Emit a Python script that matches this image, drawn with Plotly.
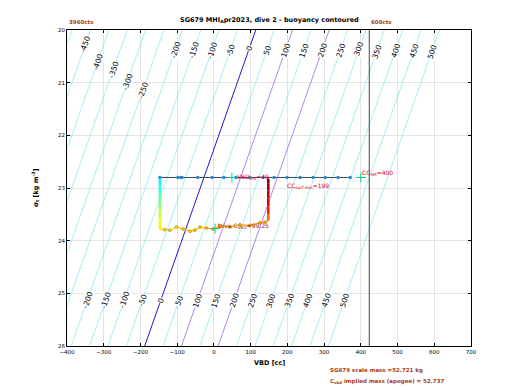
import plotly.graph_objects as go
from plotly.colors import sample_colorscale

# ---------------- data ----------------
MASS_G = 52737          # implied mass (g)
V0_CC = 51589           # hull volume reference (cc)
VBD_MAX_CC = 423        # 600 cts limit
contour_levels = list(range(-500, 501, 50))
blue_levels = [0]
purple_levels = [100, 200]

top_label_levels = [-450, -400, -350, -300, -250, -200, -150, -100, -50, 0, 50,
                    100, 150, 200, 250, 300, 350, 400, 450, 500]
top_label_sigma = [20.28, 20.61, 20.76, 20.99, 21.14, 20.38, 20.38, 20.38, 20.38, 20.35,
                   20.38, 20.38, 20.38, 20.38, 20.38, 20.36, 20.40, 20.38, 20.38, 20.40]
bot_label_levels = [-200, -150, -100, -50, 0, 50, 100, 150, 200, 250, 300, 350, 400, 450, 500]
bot_label_sigma = [25.13] * len(bot_label_levels)

# surface (top) samples
surf_vbd = [-147, -98, -90, -87, -44, -5, 27, 60, 98, 134, 164, 199, 235, 270, 303, 338, 371]
surf_sigma = [22.80, 22.80, 22.80, 22.80, 22.80, 22.80, 22.80, 22.80, 22.80, 22.80,
              22.80, 22.80, 22.80, 22.80, 22.80, 22.80, 22.80]

# descent leg
desc_vbd = [-147, -147, -147, -147, -147, -147, -147, -147]
desc_sigma = [22.82, 22.95, 23.10, 23.25, 23.40, 23.55, 23.70, 23.78]
desc_time = [30, 33, 36, 39, 42, 45, 48, 50]
# bottom leg
bot_vbd = [-147, -134, -120, -102, -84, -65, -52, -38, -20, -2, 16, 44, 71, 98, 125, 139, 148]
bot_sigma = [23.78, 23.79, 23.80, 23.74, 23.78, 23.82, 23.80, 23.74, 23.76, 23.78, 23.72,
             23.74, 23.70, 23.71, 23.66, 23.65, 23.62]
bot_time = [50, 50.3, 50.6, 50.9, 51.2, 51.5, 51.8, 52.1, 52.4, 52.7, 53, 53.3, 53.6,
            53.9, 54.2, 54.6, 55]
# ascent leg
asc_vbd = [148, 148, 148, 148, 148, 148, 148]
asc_sigma = [23.62, 23.50, 23.35, 23.20, 23.05, 22.92, 22.82]
asc_time = [55, 60, 65, 69, 73, 77, 80]
T_MIN, T_MAX = 0, 80

FONT = "DejaVu Sans"
RED = "rgb(225,0,0)"
BROWN = "rgb(170,60,20)"


def line_vbd(level, sigma):
    return MASS_G / (1 + sigma / 1000.0) - V0_CC + level


fig = go.Figure()

sig_pts = [20, 21, 22, 23, 24, 25, 26]
for lev in contour_levels:
    if lev in blue_levels:
        col, w = "rgb(0,0,205)", 0.9
    elif lev in purple_levels:
        col, w = "rgb(160,100,230)", 0.8
    else:
        col, w = "rgb(100,228,238)", 0.6
    fig.add_trace(go.Scatter(x=[line_vbd(lev, s) for s in sig_pts], y=sig_pts,
                             mode="lines", line=dict(color=col, width=w),
                             hoverinfo="skip", showlegend=False))

# contour labels
for levs, sigs in ((top_label_levels, top_label_sigma), (bot_label_levels, bot_label_sigma)):
    for lev, s in zip(levs, sigs):
        fig.add_annotation(x=line_vbd(lev, s), y=s, text=str(lev), showarrow=False,
                           textangle=-71, font=dict(family=FONT, size=7.5, color="black"),
                           bgcolor="white", borderpad=0)

# surface line
fig.add_trace(go.Scatter(x=surf_vbd, y=surf_sigma, mode="lines+markers",
                         line=dict(color="rgb(60,70,95)", width=1),
                         marker=dict(color="rgb(45,135,205)", size=3.5),
                         hoverinfo="skip", showlegend=False))


def draw_leg(xs, ys, ts, width):
    for i in range(len(xs) - 1):
        tm = (ts[i] + ts[i + 1]) / 2.0
        c = sample_colorscale("Jet", [(tm - T_MIN) / (T_MAX - T_MIN)])[0]
        fig.add_trace(go.Scatter(x=[xs[i], xs[i + 1]], y=[ys[i], ys[i + 1]], mode="lines",
                                 line=dict(color=c, width=width), hoverinfo="skip",
                                 showlegend=False))


draw_leg(desc_vbd, desc_sigma, desc_time, 2.6)
draw_leg(bot_vbd, bot_sigma, bot_time, 1.3)
draw_leg(asc_vbd, asc_sigma, asc_time, 2.6)
fig.add_trace(go.Scatter(x=bot_vbd[1:-1], y=bot_sigma[1:-1], mode="markers",
                         marker=dict(color=bot_time[1:-1], colorscale="Jet", cmin=T_MIN, cmax=T_MAX,
                                     size=3, line=dict(color="rgb(150,120,40)", width=0.5)),
                         hoverinfo="skip", showlegend=False))

# red crosses
fig.add_trace(go.Scatter(x=[400, 49, 3], y=[22.80, 22.80, 23.77], mode="markers",
                         marker=dict(symbol="cross-thin-open", size=7,
                                     line=dict(color=RED, width=1)),
                         hoverinfo="skip", showlegend=False))

# vertical 600cts line
fig.add_shape(type="line", x0=VBD_MAX_CC, x1=VBD_MAX_CC, y0=20, y1=26, xref="x", yref="y",
              line=dict(color="rgb(70,70,70)", width=1))

small = dict(family=FONT, size=6, color=RED)
fig.add_annotation(x=397, y=22.72, text="CC<sub>SM</sub>=400", showarrow=False,
                   xanchor="left", yanchor="middle", font=small)
fig.add_annotation(x=194, y=22.97, text="CC<sub>surf min</sub>=199", showarrow=False,
                   xanchor="left", yanchor="middle", font=small)
fig.add_annotation(x=58, y=22.80, text="VBD<sub>lim</sub>=49", showarrow=False,
                   xanchor="left", yanchor="middle", font=small)
fig.add_annotation(x=6, y=23.72, text="Dive C<sub>VBD</sub>=99.25", showarrow=False,
                   xanchor="left", yanchor="middle",
                   font=dict(family=FONT, size=6, color="rgb(170,40,0)"))

# header / footer texts
fig.add_annotation(xref="paper", yref="paper", x=0.5, y=1.032,
                   text="<b>SG679 MHI<sub>A</sub>pr2023, dive 2 - buoyancy contoured</b>",
                   showarrow=False, xanchor="center", yanchor="middle",
                   font=dict(family=FONT, size=6.5, color="black"))
fig.add_annotation(xref="x", yref="paper", x=-400, y=1.025, text="<b>3960cts</b>",
                   showarrow=False, xanchor="left", yanchor="middle",
                   font=dict(family=FONT, size=5.5, color=BROWN))
fig.add_annotation(xref="x", yref="paper", x=VBD_MAX_CC, y=1.025, text="<b>600cts</b>",
                   showarrow=False, xanchor="left", yanchor="middle",
                   font=dict(family=FONT, size=5.5, color=BROWN))
fig.add_annotation(xref="paper", yref="paper", x=0.5, y=-0.054, text="<b>VBD [cc]</b>",
                   showarrow=False, xanchor="center", yanchor="middle",
                   font=dict(family=FONT, size=6.5, color="black"))
fig.add_annotation(xref="paper", yref="paper", x=-0.079, y=0.5,
                   text="<b>σ<sub>t</sub> [kg m<sup>-3</sup>]</b>", textangle=-90,
                   showarrow=False, xanchor="center", yanchor="middle",
                   font=dict(family=FONT, size=6.5, color="black"))
fig.add_annotation(xref="paper", yref="paper", x=0.6465, y=-0.076,
                   text="<b>SG679 scale mass =52.721 kg</b>",
                   showarrow=False, xanchor="left", yanchor="middle",
                   font=dict(family=FONT, size=5.5, color=BROWN))
fig.add_annotation(xref="paper", yref="paper", x=0.6465, y=-0.112,
                   text="<b>C<sub>vbd</sub> implied mass (apogee) = 52.737</b>",
                   showarrow=False, xanchor="left", yanchor="middle",
                   font=dict(family=FONT, size=5.5, color=BROWN))

axis_common = dict(showline=True, linecolor="black", linewidth=0.8, mirror="ticks",
                   ticks="inside", ticklen=3, tickcolor="black", showgrid=True,
                   gridcolor="rgb(228,228,228)", gridwidth=0.6, zeroline=False,
                   tickfont=dict(family=FONT, size=5.5, color="black"))
fig.update_xaxes(range=[-400, 700], dtick=100, tick0=-400, **axis_common)
fig.update_yaxes(range=[26, 20], dtick=1, **axis_common)

# page body has an 8px default margin, so the figure is sized to fit the window
fig.update_layout(width=512, height=382, margin=dict(l=59, r=49, t=22, b=44),
                  paper_bgcolor="white", plot_bgcolor="white", showlegend=False,
                  font=dict(family=FONT))

fig.write_html("out.html")
